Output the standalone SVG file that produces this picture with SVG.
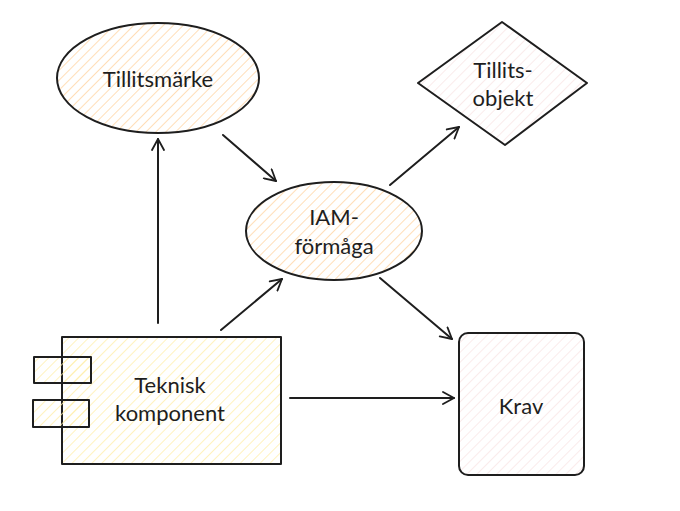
<svg xmlns="http://www.w3.org/2000/svg" width="680" height="511" viewBox="0 0 680 511">
<defs>
<pattern id="hOrange" width="7" height="7" patternUnits="userSpaceOnUse" patternTransform="rotate(45)">
<line x1="0" y1="0" x2="0" y2="7" stroke="#ffd3a0" stroke-width="1.5"/>
</pattern>
<pattern id="hYellow" width="7" height="7" patternUnits="userSpaceOnUse" patternTransform="rotate(45)">
<line x1="0" y1="0" x2="0" y2="7" stroke="#ffeea8" stroke-width="1.5"/>
</pattern>
<pattern id="hPink" width="7" height="7" patternUnits="userSpaceOnUse" patternTransform="rotate(45)">
<line x1="0" y1="0" x2="0" y2="7" stroke="#f8e2e2" stroke-width="1.4"/>
</pattern>
<marker id="arr" markerWidth="14" markerHeight="14" refX="12" refY="7" orient="auto" markerUnits="userSpaceOnUse">
<path d="M1,1 L12,7 L1,13" fill="none" stroke="#1e1e1e" stroke-width="1.8" stroke-linecap="round" stroke-linejoin="round"/>
</marker>
</defs>
<style>
.shape{stroke:#1e1e1e;stroke-width:2;stroke-linejoin:round}
.conn{stroke:#1e1e1e;stroke-width:2;fill:none;stroke-linecap:round;marker-end:url(#arr)}
.lbl{font-family:"Lato","Noto Sans",sans-serif;font-size:22px;fill:#1e1e1e;text-anchor:middle;dominant-baseline:central}
</style>
<rect width="680" height="511" fill="#ffffff"/>
<g id="connectors">
<line class="conn" x1="158" y1="323" x2="158" y2="139"/>
<line class="conn" x1="223" y1="135" x2="276" y2="181"/>
<line class="conn" x1="221" y1="330" x2="282" y2="279"/>
<line class="conn" x1="390" y1="185" x2="459" y2="127"/>
<line class="conn" x1="380" y1="278" x2="452" y2="339"/>
<line class="conn" x1="290" y1="398" x2="454" y2="398"/>
</g>
<g id="tillitsmarke">
<ellipse class="shape" cx="158" cy="78" rx="101" ry="55" fill="url(#hOrange)"/>
<text class="lbl" x="158" y="78">Tillitsmärke</text>
</g>
<g id="iam">
<ellipse class="shape" cx="334" cy="231" rx="88" ry="49" fill="url(#hOrange)"/>
<text class="lbl" x="334" y="216">IAM-</text>
<text class="lbl" x="334" y="245">förmåga</text>
</g>
<g id="tillitsobjekt">
<polygon class="shape" points="502,22 587,83 505,145 418,83" fill="url(#hPink)"/>
<text class="lbl" x="503" y="69">Tillits-</text>
<text class="lbl" x="503" y="97">objekt</text>
</g>
<g id="krav">
<rect class="shape" x="459" y="333" width="125" height="142" rx="9" fill="url(#hPink)"/>
<text class="lbl" x="521" y="405">Krav</text>
</g>
<g id="teknisk">
<rect class="shape" x="62" y="337" width="219" height="127" fill="url(#hYellow)"/>
<rect class="shape" x="34" y="357" width="57" height="26" fill="url(#hYellow)"/>
<rect class="shape" x="33" y="400" width="56" height="27" fill="url(#hYellow)"/>
<text class="lbl" x="170" y="384">Teknisk</text>
<text class="lbl" x="170" y="412">komponent</text>
</g>
</svg>
